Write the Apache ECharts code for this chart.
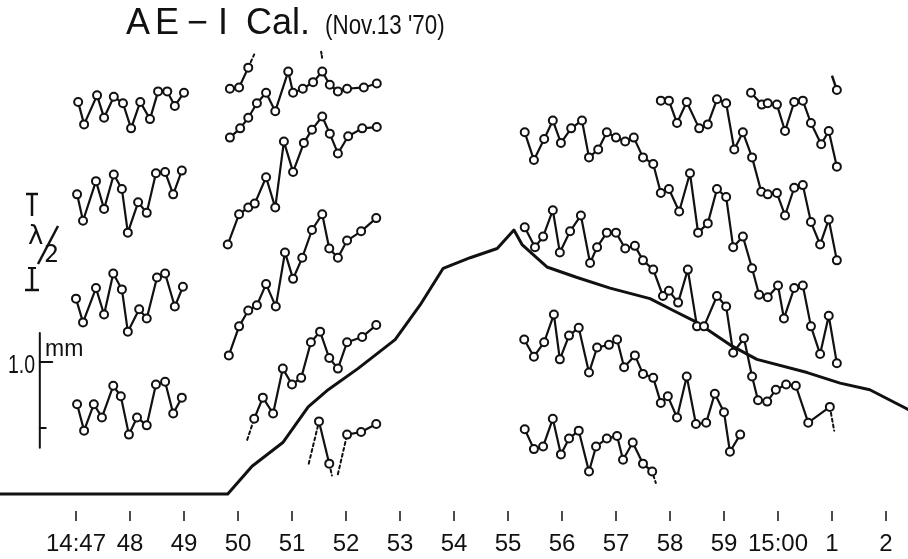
<!DOCTYPE html>
<html><head><meta charset="utf-8">
<script src="https://cdn.jsdelivr.net/npm/echarts@6/dist/echarts.min.js"></script>
<style>html,body{margin:0;padding:0;background:#fff}#c{width:908px;height:559px}</style>
</head><body><div id="c"></div><script>
// x values: minutes (47 = 14:47, 60 = 15:00, 61 = 15:01 ...); y values: mm
const tickValues = [47,48,49,50,51,52,53,54,55,56,57,58,59,60,61,62];
const tickLabels = ['14:47','48','49','50','51','52','53','54','55','56','57','58','59','15:00','1','2'];

// thick calibration curve
const calT = [45.59,49.81,50.26,50.83,51.30,51.67,52.22,52.91,53.37,53.80,54.30,54.80,55.11,55.26,55.72,56.28,56.89,57.63,58.06,58.50,59.11,59.61,60.54,61.15,61.70,62.41];
const calV = [0,0,0.21,0.39,0.66,0.79,0.95,1.17,1.43,1.71,1.79,1.86,2.00,1.89,1.72,1.64,1.56,1.48,1.39,1.30,1.13,1.02,0.92,0.84,0.79,0.64];

// left group (14:47 - 14:49)
const l1T = [47.04,47.15,47.39,47.52,47.70,47.87,48.02,48.19,48.37,48.52,48.69,48.83,49.00];
const l1V = [2.97,2.80,3.02,2.85,3.01,2.96,2.77,2.97,2.84,3.05,3.05,2.94,3.04];
const l2T = [47.02,47.13,47.37,47.52,47.70,47.85,47.96,48.15,48.31,48.48,48.65,48.80,48.96];
const l2V = [2.27,2.07,2.37,2.16,2.42,2.31,1.98,2.21,2.13,2.43,2.44,2.27,2.45];
const l3T = [47.00,47.13,47.37,47.52,47.69,47.85,47.96,48.17,48.31,48.50,48.65,48.83,48.98];
const l3V = [1.48,1.30,1.56,1.36,1.67,1.55,1.23,1.40,1.33,1.64,1.67,1.42,1.57];
const l4T = [47.02,47.15,47.33,47.48,47.69,47.83,47.98,48.13,48.31,48.48,48.65,48.80,48.96];
const l4V = [0.68,0.48,0.68,0.58,0.82,0.74,0.45,0.58,0.52,0.83,0.85,0.61,0.73];

// middle group (14:50 - 14:52)
const m1T = [49.85,50.02,50.19];
const m1V = [3.07,3.08,3.23];
const m1DashT = [50.19,50.30];
const m1DashV = [3.23,3.33];
const m1DotT = [51.54,51.56];
const m1DotV = [3.35,3.30];
const m2T = [49.85,50.04,50.19,50.35,50.52,50.69,50.93,51.02,51.20,51.39,51.56,51.70,51.85,52.02,52.33,52.57];
const m2V = [2.70,2.77,2.85,2.96,3.04,2.90,3.20,3.04,3.07,3.12,3.20,3.10,3.05,3.07,3.08,3.11];
const m3T = [49.81,50.02,50.19,50.31,50.52,50.69,50.85,51.02,51.22,51.37,51.56,51.70,51.85,52.04,52.30,52.57];
const m3V = [1.89,2.12,2.17,2.20,2.40,2.17,2.67,2.44,2.66,2.76,2.86,2.73,2.58,2.71,2.77,2.78];
const m4T = [49.83,50.02,50.19,50.35,50.52,50.70,50.87,51.02,51.19,51.37,51.56,51.69,51.85,52.02,52.28,52.56];
const m4V = [1.05,1.27,1.39,1.43,1.59,1.42,1.83,1.63,1.79,2.00,2.12,1.86,1.79,1.92,1.99,2.09];
const m5T = [50.30,50.46,50.65,50.83,51.00,51.17,51.35,51.52,51.69,51.85,52.02,52.30,52.56];
const m5V = [0.57,0.73,0.61,0.95,0.83,0.88,1.15,1.23,1.03,0.95,1.15,1.19,1.28];
const m5DashT = [50.17,50.30];
const m5DashV = [0.41,0.57];
const m6aT = [51.50,51.69];
const m6aV = [0.55,0.23];
const m6bT = [52.02,52.28,52.56];
const m6bV = [0.45,0.47,0.53];
const m6Dot1T = [51.31,51.50], m6Dot1V = [0.23,0.55];
const m6Dot2T = [51.69,51.74], m6Dot2V = [0.23,0.14];
const m6Dot3T = [51.85,52.02], m6Dot3V = [0.15,0.45];

// right group (14:55 - 15:01)
const r1T = [55.31,55.48,55.67,55.83,55.98,56.17,56.37,56.50,56.67,56.83,57.00,57.17,57.33,57.50,57.69,57.83,57.98,58.17,58.37,58.52,58.70,58.87,59.04,59.17,59.35,59.52,59.65,59.81,60.00,60.11,60.30,60.46,60.61,60.78,60.94,61.09];
const r1V = [2.74,2.53,2.69,2.83,2.66,2.77,2.83,2.55,2.61,2.74,2.70,2.67,2.70,2.55,2.50,2.28,2.31,2.14,2.43,1.98,2.05,2.31,2.25,1.87,1.95,1.71,1.51,1.49,1.58,1.33,1.56,1.58,1.27,1.06,1.35,0.99];
const r2T = [55.31,55.50,55.65,55.83,55.96,56.15,56.35,56.52,56.65,56.83,57.00,57.17,57.35,57.50,57.69,57.87,57.98,58.15,58.33,58.50,58.63,58.87,59.04,59.17,59.37,59.52,59.63,59.80,59.96,60.15,60.33,60.56,60.96];
const r2V = [2.02,1.87,1.95,2.15,1.83,1.99,2.11,1.75,1.87,1.98,1.98,1.86,1.88,1.77,1.70,1.50,1.54,1.45,1.70,1.27,1.27,1.50,1.42,1.07,1.18,0.89,0.71,0.70,0.79,0.83,0.82,0.54,0.66];
const r2DashT = [60.96,61.04];
const r2DashV = [0.66,0.48];
const r3T = [55.30,55.48,55.67,55.85,55.96,56.13,56.31,56.50,56.65,56.87,57.02,57.15,57.35,57.50,57.69,57.83,57.96,58.13,58.31,58.48,58.67,58.83,59.00,59.11,59.30];
const r3V = [1.17,1.04,1.15,1.36,1.02,1.20,1.26,0.92,1.11,1.13,1.17,0.96,1.05,0.91,0.88,0.69,0.74,0.58,0.89,0.53,0.54,0.76,0.62,0.32,0.45];
const r4T = [55.31,55.48,55.65,55.83,55.98,56.13,56.31,56.50,56.63,56.83,57.02,57.13,57.31,57.50,57.67];
const r4V = [0.49,0.34,0.36,0.57,0.30,0.42,0.48,0.17,0.36,0.42,0.44,0.26,0.39,0.23,0.17];
const r4DotT = [57.67,57.74];
const r4DotV = [0.17,0.08];
const rt1T = [57.83,57.98,58.13,58.31,58.54,58.70,58.87,59.04,59.19,59.35,59.52,59.69,59.81,59.98,60.13,60.30,60.46,60.61,60.78,60.94,61.09];
const rt1V = [2.98,2.98,2.81,2.97,2.77,2.80,2.99,2.96,2.61,2.74,2.55,2.29,2.27,2.28,2.11,2.32,2.34,2.06,1.89,2.08,1.77];
const rt2T = [59.50,59.70,59.81,59.98,60.13,60.30,60.46,60.61,60.80,60.94,61.09];
const rt2V = [3.04,2.95,2.96,2.95,2.75,2.97,2.98,2.81,2.65,2.75,2.48];
const rt3T = [61.00,61.09];
const rt3V = [3.17,3.06];

// mm scale bar
const scaleT = [46.33,46.33];
const scaleV = [0.35,1.22];
const scaleTick1T = [46.33,46.56], scaleTick1V = [1.0,1.0];
const scaleTick2T = [46.33,46.44], scaleTick2V = [0.5,0.5];

const ink = '#111';
function pts(t, v) { return t.map((x, i) => [x, v[i]]); }
function trace(t, v) {
  return {
    type: 'line', data: pts(t, v), symbol: 'circle', symbolSize: 8, showSymbol: true,
    lineStyle: { color: ink, width: 2.2 },
    itemStyle: { color: '#fff', borderColor: ink, borderWidth: 2, opacity: 1 },
    z: 4, silent: true, animation: false
  };
}
function plain(t, v, width, type, z) {
  return {
    type: 'line', data: pts(t, v), symbol: 'none',
    lineStyle: { color: ink, width: width, type: type || 'solid', cap: 'round', join: 'round' },
    z: z || 2, silent: true, animation: false
  };
}

const series = [
  plain(calT, calV, 3, 'solid', 3),
  plain(scaleT, scaleV, 2),
  plain(scaleTick1T, scaleTick1V, 2),
  plain(scaleTick2T, scaleTick2V, 2),
  plain(m1DashT, m1DashV, 2, [3, 3]),
  plain(m1DotT, m1DotV, 2, [2, 2]),
  plain(m5DashT, m5DashV, 2, [3, 3]),
  plain(m6Dot1T, m6Dot1V, 2, [3, 3]),
  plain(m6Dot2T, m6Dot2V, 2, [3, 3]),
  plain(m6Dot3T, m6Dot3V, 2, [3, 3]),
  plain(r2DashT, r2DashV, 2, [3, 3]),
  plain(r4DotT, r4DotV, 2, [2, 3]),
  trace(l1T, l1V), trace(l2T, l2V), trace(l3T, l3V), trace(l4T, l4V),
  trace(m1T, m1V), trace(m2T, m2V), trace(m3T, m3V), trace(m4T, m4V), trace(m5T, m5V),
  trace(m6aT, m6aV), trace(m6bT, m6bV),
  trace(r1T, r1V), trace(r2T, r2V), trace(r3T, r3V), trace(r4T, r4V),
  trace(rt1T, rt1V), trace(rt2T, rt2V),
  {
    type: 'line', data: pts(rt3T, rt3V), symbol: 'circle', symbolSize: 8,
    lineStyle: { color: ink, width: 2.5 },
    itemStyle: { color: '#fff', borderColor: ink, borderWidth: 2 },
    z: 4, silent: true, animation: false
  }
];
series[series.length - 1].data[0] = { value: series[series.length - 1].data[0], symbol: 'none' };

const titleFont = 'Liberation Sans, sans-serif';
const chart = echarts.init(document.getElementById('c'), null, { renderer: 'canvas' });
chart.setOption({
  backgroundColor: '#fff',
  animation: false,
  grid: { left: 0, right: 0, top: 0, bottom: 38, containLabel: false },
  xAxis: {
    type: 'value', min: 45.5926, max: 62.4074, position: 'bottom',
    axisLine: { show: false, onZero: false },
    splitLine: { show: false },
    axisTick: { show: true, inside: true, customValues: tickValues, length: 10, lineStyle: { color: ink, width: 1.5 } },
    axisLabel: {
      show: true, inside: false, customValues: tickValues, margin: 11,
      fontFamily: 'Liberation Sans, sans-serif', fontSize: 24, color: ink,
      formatter: function (v) { const i = tickValues.indexOf(Math.round(v)); return (i >= 0 && Math.abs(v - Math.round(v)) < 1e-6) ? tickLabels[i] : ''; }
    }
  },
  yAxis: { type: 'value', min: -0.2045, max: 3.7424, show: false, splitLine: { show: false } },
  graphic: [
    // title
    { type: 'text', x: 126, y: 24, style: { text: 'A', font: '36px ' + titleFont, fill: ink, verticalAlign: 'middle' } },
    { type: 'text', x: 155, y: 24, style: { text: 'E', font: '36px ' + titleFont, fill: ink, verticalAlign: 'middle' } },
    { type: 'text', x: 187, y: 24, style: { text: '−', font: '36px ' + titleFont, fill: ink, verticalAlign: 'middle' } },
    { type: 'text', x: 218, y: 24, style: { text: 'I', font: '36px ' + titleFont, fill: ink, verticalAlign: 'middle' } },
    { type: 'text', x: 246, y: 24, style: { text: 'Cal.', font: '36px ' + titleFont, fill: ink, verticalAlign: 'middle' } },
    { type: 'text', x: 325, y: 26, scaleX: 0.8, style: { text: "(Nov.13 '70)", font: '28px ' + titleFont, fill: ink, verticalAlign: 'middle' } },
    // mm scale labels
    { type: 'text', x: 8, y: 366, scaleX: 0.75, style: { text: '1.0', font: '26px Liberation Sans, sans-serif', fill: ink, verticalAlign: 'middle' } },
    { type: 'text', x: 45, y: 350, style: { text: 'mm', font: '23px Liberation Sans, sans-serif', fill: ink, verticalAlign: 'middle' } },
    // lambda/2 scale bar
    { type: 'line', shape: { x1: 26, y1: 194, x2: 38, y2: 194 }, style: { stroke: ink, lineWidth: 2.5 } },
    { type: 'line', shape: { x1: 32, y1: 194, x2: 32, y2: 216 }, style: { stroke: ink, lineWidth: 2.5 } },
    { type: 'text', x: 28, y: 237, style: { text: 'λ', font: '26px DejaVu Sans, sans-serif', fill: ink, verticalAlign: 'middle' } },
    { type: 'line', shape: { x1: 58, y1: 226, x2: 38, y2: 264 }, style: { stroke: ink, lineWidth: 2.5 } },
    { type: 'text', x: 44, y: 256, style: { text: '2', font: '24px DejaVu Sans, sans-serif', fill: ink, verticalAlign: 'middle' } },
    { type: 'line', shape: { x1: 32, y1: 268, x2: 32, y2: 290 }, style: { stroke: ink, lineWidth: 2.5 } },
    { type: 'line', shape: { x1: 28, y1: 268, x2: 36, y2: 268 }, style: { stroke: ink, lineWidth: 2 } },
    { type: 'line', shape: { x1: 25, y1: 290, x2: 39, y2: 290 }, style: { stroke: ink, lineWidth: 2.5 } }
  ],
  series: series
});
</script></body></html>
